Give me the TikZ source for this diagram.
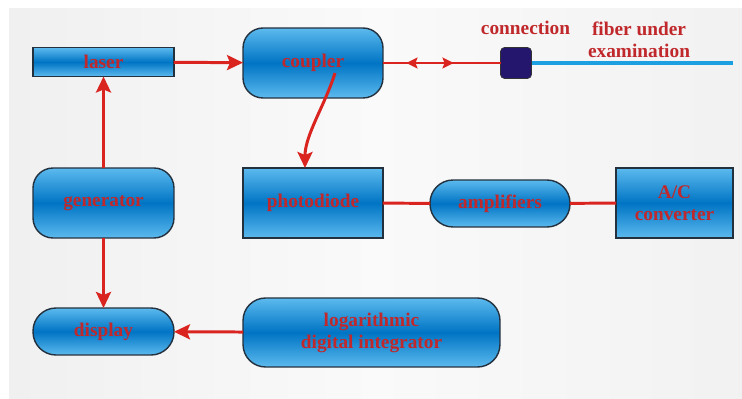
\documentclass[tikz,border=0pt]{standalone}
\usepackage{fontspec}
\setmainfont{Liberation Serif}
\usepackage{xcolor}
\usepackage{tikz}
\usetikzlibrary{arrows.meta, decorations.markings}

\definecolor{boxtop}{RGB}{92,186,238}
\definecolor{boxmid}{RGB}{0,116,196}
\definecolor{boxline}{RGB}{35,48,62}
\definecolor{labelred}{RGB}{192,40,44}
\definecolor{wirered}{RGB}{218,36,32}
\definecolor{fiberblue}{RGB}{28,160,226}
\definecolor{plugblue}{RGB}{36,22,108}

\pgfdeclarehorizontalshading{panel}{100bp}{color(0bp)=(black!25); color(5bp)=(black!13); color(18bp)=(black!7); color(50bp)=(black!2); color(80bp)=(black!6); color(93bp)=(black!13); color(100bp)=(black!22)}

\begin{document}
\begin{tikzpicture}[x = 0.02cm, y = -0.02cm,
	block/.style = {draw = boxline, line width = 0.8pt, top color = boxtop, bottom color = boxtop, middle color = boxmid, text = labelred, font = \fontsize{11}{12.5}\selectfont\bfseries, align = center, inner sep = 0pt, outer sep = 0pt},
	wire/.style = {draw = wirered, line width = 1.7pt},
	tag/.style = {text = labelred, font = \fontsize{11}{12.5}\selectfont\bfseries, align = center}]
							\useasboundingbox (0,0) rectangle (742,398);
							\fill [shading = panel] (9,9) rectangle (742,398);
				
							% blocks
							\node [block, minimum width = 2.82cm, minimum height = 0.58cm] (laser) at (103.5,62) {laser};
							\node [block, rounded corners = 0.4cm, minimum width = 2.8cm, minimum height = 1.4cm] (coupler) at (313,63) {coupler};
							\node [block, rounded corners = 0.4cm, minimum width = 2.82cm, minimum height = 1.4cm] (generator) at (103.5,203) {generator};
							\node [block, minimum width = 2.8cm, minimum height = 1.4cm] (photodiode) at (313,203) {photodiode};
							\node [block, rounded corners = 0.46cm, minimum width = 2.8cm, minimum height = 0.94cm] (amplifiers) at (500,203.5) {amplifiers};
							\node [block, minimum width = 2.34cm, minimum height = 1.4cm] (converter) at (674.5,203) {A/C\\converter};
							\node [block, rounded corners = 0.46cm, minimum width = 2.82cm, minimum height = 0.94cm] (display) at (103.5,331.5) {display};
							\node [block, rounded corners = 0.45cm, minimum width = 5.14cm, minimum height = 1.38cm] (integrator) at (371.5,332.5) {logarithmic\\digital integrator};
				
							% fiber side
							\node [draw = black!80, fill = plugblue, rounded corners = 0.08cm, minimum size = 0.62cm, inner sep = 0pt, outer sep = 0pt] (plug) at (516,63) {};
							\coordinate (fiberend) at (733,63);
							\draw [fiberblue, line width = 2.3pt] (plug.east) -- (fiberend);
							\node [tag] (conn) at (525.5,28) {connection};
							\node [tag] (fiber) at (639,40) {fiber under\\examination};
				
							% links
							\begin{scope}[wire, -{Stealth[length = 0.32cm, width = 0.3cm, inset = 0.06cm]}]
								\draw (laser) -- (coupler);
								\draw (generator) -- (laser);
								\draw (generator) -- (display);
								\draw (integrator) -- (display);
								\coordinate (tap) at (335,73);
								\draw (tap) .. controls (325,105) and (305,135) .. ([xshift = -0.16cm]photodiode.north);
							\end{scope}
				
							\draw [wire, postaction = {decorate}, decoration = {markings,
								mark = at position 0.2 with {\arrowreversed{Stealth[length = 0.22cm, width = 0.22cm, inset = 0.04cm]}},
								mark = at position 0.6 with {\arrow{Stealth[length = 0.22cm, width = 0.22cm, inset = 0.04cm]}}}] (coupler) -- (plug);
							\draw [wire] (photodiode) -- (amplifiers);
							\draw [wire] (amplifiers) -- (converter);
						\end{tikzpicture}
\end{document}
